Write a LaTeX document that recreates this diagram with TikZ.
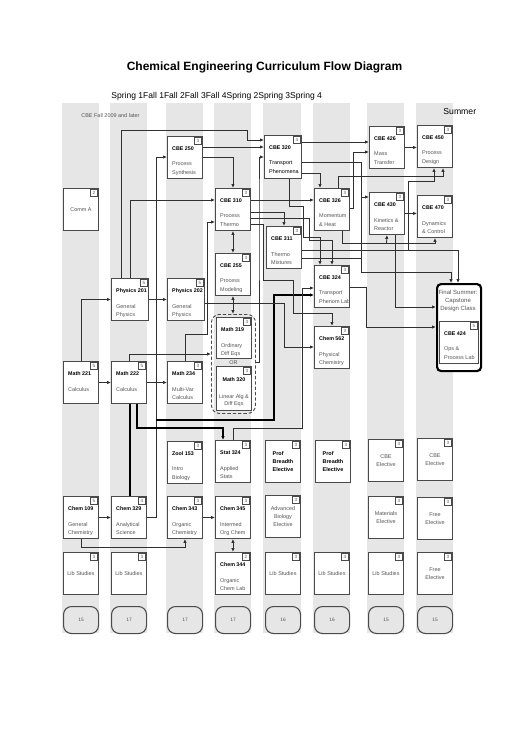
\documentclass[tikz,border=0pt]{standalone}
\usepackage{fontspec}
\setmainfont{Liberation Sans}
\usetikzlibrary{arrows.meta}

\definecolor{stripegray}{HTML}{E6E6E6}
\definecolor{boxgray}{HTML}{4A4A4A}
\definecolor{wiregray}{HTML}{303030}
\definecolor{textgray}{HTML}{555555}

\tikzset{every picture/.style={line width=0.6pt}}
\tikzset{
  cbox/.style={draw=boxgray, line width=0.7pt, fill=white, anchor=north west, minimum width=26.25pt, minimum height=31.5pt, inner sep=0pt},
  ctitle/.style={anchor=west, inner sep=0pt, font=\fontsize{4}{4.8}\selectfont\bfseries, text=black},
  cdesc/.style={anchor=north west, inner sep=0pt, align=left, font=\fontsize{4.1}{6.3}\selectfont, text=textgray},
  ccent/.style={inner sep=0pt, align=center, font=\fontsize{4.1}{6.2}\selectfont, text=textgray},
  cred/.style={draw=boxgray, line width=0.5pt, fill=white, anchor=north east, minimum size=5.4pt, inner sep=0pt, font=\fontsize{3.4}{3.4}\selectfont, text=textgray},
  tot/.style={draw=boxgray, line width=0.8pt, fill=stripegray, rounded corners=6pt, anchor=north west, minimum width=26.25pt, minimum height=20.25pt, inner sep=0pt, font=\fontsize{3.6}{3.6}\selectfont, text=textgray},
  arr/.style={draw=wiregray, -{Latex[length=3pt,width=2.6pt]}},
  darr/.style={draw=wiregray, {Latex[length=3pt,width=2.6pt]}-{Latex[length=3pt,width=2.6pt]}},
  link/.style={draw=wiregray},
  heavy/.style={draw=black, line width=1pt},
}

% course box: [box options]{name}{x}{y}{title}{description}{credits}
\newcommand{\course}[7][]{%
  \node[cbox,#1] (#2) at (#3,#4) {};
  \node[ctitle] (#2t) at ([xshift=3.6pt,yshift=-9.75pt]#2.north west) {#5};
  \node[cdesc] (#2d) at ([xshift=3.6pt,yshift=-19.3pt]#2.north west) {#6};
  \node[cred] (#2c) at ([xshift=-0.8pt,yshift=-0.8pt]#2.north east) {#7};
}
% elective box: [text options]{name}{x}{y}{text}{credits}
\newcommand{\elective}[6][]{%
  \node[cbox] (#2) at (#3,#4) {};
  \node[ccent,#1] (#2d) at (#2.center) {#5};
  \node[cred] (#2c) at ([xshift=-0.8pt,yshift=-0.8pt]#2.north east) {#6};
}

\begin{document}
\begin{tikzpicture}[x=0.75pt,y=-0.75pt]
\useasboundingbox (0,0) rectangle (530,749);

%Semester stripes
\fill[stripegray] (62,103) rectangle (99,633);
\fill[stripegray] (110,103) rectangle (147,633);
\fill[stripegray] (166,103) rectangle (203,633);
\fill[stripegray] (214,103) rectangle (251,633);
\fill[stripegray] (263,103) rectangle (301,633);
\fill[stripegray] (313,103) rectangle (350,633);
\fill[stripegray] (367,103) rectangle (404,633);
\fill[stripegray] (416,103) rectangle (453,633);

% Text Node
\node[font=\fontsize{9}{11}\selectfont\bfseries] (title) at (264.5,67) {Chemical Engineering Curriculum Flow Diagram};
% Text Node
\node[anchor=west, inner sep=0pt, font=\fontsize{6.4}{7.5}\selectfont] (terms) at (111,96) {Spring 1Fall 1Fall 2Fall 3Fall 4Spring 2Spring 3Spring 4};
% Text Node
\node[anchor=west, inner sep=0pt, font=\fontsize{6.5}{7.5}\selectfont] (summer) at (443,112) {Summer};
% Text Node
\node[anchor=west, inner sep=0pt, font=\fontsize{4.1}{5}\selectfont, text=textgray] (since) at (81,116) {CBE Fall 2009 and later};

%Spring 1
\elective{comma}{63}{188}{Comm A}{2}
\course{calc221}{63}{361}{Math 221}{Calculus}{5}
\course{chem109}{63}{496}{Chem 109}{General\\Chemistry}{5}
\elective{lib1}{63}{552}{Lib Studies}{3}
%Fall 1
\course[minimum width=27.75pt]{phys201}{111}{278}{Physics 201}{General\\Physics}{5}
\course{calc222}{111}{361}{Math 222}{Calculus}{5}
\course{chem329}{111}{496}{Chem 329}{Analytical\\Science}{4}
\elective{lib2}{111}{552}{Lib Studies}{3}
%Fall 2
\course{cbe250}{167}{136}{CBE 250}{Process\\Synthesis}{3}
\course[minimum width=27.75pt]{phys202}{167}{278}{Physics 202}{General\\Physics}{5}
\course{mth234}{167}{361}{Math 234}{Multi-Var\\Calculus}{3}
\course{zool153}{167}{441}{Zool 153}{Intro\\Biology}{3}
\course{chem343}{167}{496}{Chem 343}{Organic\\Chemistry}{3}
%Fall 3
\course{cbe310}{215}{188}{CBE 310}{Process\\Thermo}{3}
\course{cbe255}{215}{253}{CBE 255}{Process\\Modeling}{3}
\node[draw=boxgray, line width=0.7pt, dash pattern=on 2.5pt off 1.5pt, rounded corners=6pt, anchor=north west, minimum width=33pt, minimum height=74.25pt, inner sep=0pt] (orbox) at (211,314) {};
\course[minimum height=30.75pt]{mth319}{216}{317}{Math 319}{Ordinary\\Diff Eqs}{3}
\node[ccent] (ortxt) at (233.5,363) {OR};
\node[cbox, minimum height=33pt] (mth320) at (216,366) {};
\node[ctitle, anchor=center] (mth320t) at ([yshift=-10.5pt]mth320.north) {Math 320};
\node[ccent, anchor=north, font=\fontsize{4.1}{5.6}\selectfont] (mth320d) at ([yshift=-20.8pt]mth320.north) {Linear Alg \&\\Diff Eqs};
\node[cred] (mth320c) at ([xshift=-0.8pt,yshift=-0.8pt]mth320.north east) {3};
\course{stat324}{215}{440}{Stat 324}{Applied\\Stats}{3}
\course{chem345}{215}{496}{Chem 345}{Intermed\\Org Chem}{3}
\course{chem344}{215}{552}{Chem 344}{Organic\\Chem Lab}{2}
%Fall 4
\course[minimum width=27.75pt, minimum height=32.25pt]{cbe320}{264}{135}{CBE 320}{\textcolor{black}{Transport}\\\textcolor{black}{Phenomena}}{4}
\course{cbe311}{266}{226}{CBE 311}{Thermo\\Mixtures}{3}
\elective[align=left, text=black, font=\fontsize{4.1}{6.3}\selectfont\bfseries]{prof1}{265}{440}{Prof\\Breadth\\Elective}{3}
\elective{advbio}{265}{495}{Advanced\\Biology\\Elective}{3}
\elective{lib5}{265}{552}{Lib Studies}{3}
%Spring 2
\course{cbe326}{314}{188}{CBE 326}{Momentum\\\& Heat}{3}
\course{cbe324}{314}{265}{CBE 324}{Transport\\Phenom Lab}{3}
\course{chem562}{314}{326}{Chem 562}{Physical\\Chemistry}{3}
\elective[align=left, text=black, font=\fontsize{4.1}{6.3}\selectfont\bfseries]{prof2}{315}{440}{Prof\\Breadth\\Elective}{3}
\elective{lib6}{314}{552}{Lib Studies}{4}
%Spring 3
\course{cbe426}{369}{126}{CBE 426}{Mass\\Transfer}{3}
\course{cbe430}{369}{192}{CBE 430}{Kinetics \&\\Reactor}{3}
\elective{cbeel1}{368}{439}{CBE\\Elective}{3}
\elective{matel}{368}{496}{Materials\\Elective}{3}
\elective{lib7}{368}{552}{Lib Studies}{3}
%Spring 4
\course{cbe450}{417}{125}{CBE 450}{Process\\Design}{3}
\course{cbe470}{417}{195}{CBE 470}{Dynamics\\\& Control}{3}
\elective{cbeel2}{417}{438}{CBE\\Elective}{3}
\elective{free1}{417}{497}{Free\\Elective}{3}
\elective{free2}{417}{552}{Free\\Elective}{3}
%Summer
\node[draw=black, line width=1.6pt, rounded corners=3pt, fill=white, anchor=north west, minimum width=33pt, minimum height=65.25pt, inner sep=0pt] (final) at (436,283) {};
\node[ccent, font=\fontsize{4.5}{6}\selectfont] (finaltxt) at (458,301) {Final Summer:\\Capstone\\Design Class};
\course[minimum width=29.25pt]{cbe424}{439}{321}{CBE 424}{Ops \&\\Process Lab}{5}

%Credit totals
\node[tot] (sum1) at (63,606) {15};
\node[tot] (sum2) at (111,606) {17};
\node[tot] (sum3) at (167,606) {17};
\node[tot] (sum4) at (215,606) {17};
\node[tot] (sum5) at (265,606) {16};
\node[tot] (sum6) at (314,606) {16};
\node[tot] (sum7) at (368,606) {15};
\node[tot] (sum8) at (417,606) {15};

%Junctions
\coordinate (j420) at (156,420);
\coordinate (j361) at (361,197);
\coordinate (j258) at (361,258);
\coordinate (j387) at (386.5,243);
\coordinate (j408) at (408,213);
\coordinate (j250) at (408,250);

%Straight Lines
\draw[arr] (calc221.east) -- (calc222.west);
\draw[arr] (calc221.north) |- (phys201.west);
\draw[arr] (phys201.east) -- (phys202.west);
\draw[arr] (calc222.east) -- (mth234.west);
\draw[arr] (chem109.east) -- (chem329.west);
\draw[arr] (chem109.south) -- ++(0,8) -| (chem343.south);
\draw[arr] (chem343.east) -- (chem345.west);
\draw[darr] (chem345.south) -- (chem344.north);
\draw[darr] (cbe310.south) -- (cbe255.north);
\draw[darr] (cbe255.south) -- (cbe255.south |- orbox.north);
%Lines into CBE 320 and CBE 310
\draw[arr] (phys201.north -| 121,0) |- (247,130) |- (cbe320.west |- 0,140);
\draw[arr] (phys201.north -| 130,0) |- (cbe310.west |- 0,200);
\draw[arr] (cbe250.east |- 0,147) -- (cbe320.west |- 0,147);
\draw[arr] (cbe250.east |- 0,157) -| (cbe310.north);
\draw[arr] (chem329.east) -| (156,157) -- (cbe250.west |- 0,157);
\draw[arr] (mth234.north) |- (207,334) |- (cbe310.west |- 0,222);
\draw[arr] (calc222.north) |- (orbox.west |- 0,354);
\draw[arr] (orbox.east |- 0,362) -| (259,200) |- (cbe320.west |- 0,157);
%Heavy lines
\draw[heavy] (chem329.north -| 130,0) -- (calc222.south -| 130,0);
\draw[arr,heavy] (calc222.south -| 137,0) |- (223,428) -- (stat324.north -| 223,0);
\draw[arr,heavy] (j420) -| (274,295) -- (cbe324.west |- 0,295);
\draw[arr] (stat324.north) |- (302,428) |- (cbe324.west |- 0,288);
\draw[arr] (phys202.east |- 0,303) -| (284,347) -- (chem562.west |- 0,347);
%Lines out of CBE 310
\draw[arr] (cbe310.east |- 0,200) -- (cbe326.west |- 0,200);
\draw[arr] (cbe310.east |- 0,212) -| (cbe311.north);
\draw[arr] (cbe310.east |- 0,218) -| (309,240) -| (cbe324.north -| 332,0);
\draw[arr] (cbe310.east |- 0,224) -| (263,280) -| (293,313) -| (chem562.north);
%Lines out of CBE 320
\draw[arr] (cbe320.south -| 289,0) |- (303,206) |- (320,237) -- (cbe324.north -| 320,0);
\draw[arr] (cbe320.east |- 0,142) -- (cbe426.west |- 0,142);
\draw[arr] (cbe320.east |- 0,162) -| (361,272) -| (final.north -| 451,0);
\draw[arr] (j361) -- (cbe430.west |- j361);
\draw[arr] (cbe320.east |- 0,173) -| (cbe326.north -| 320,0);
%Lines out of CBE 311 and CBE 326
\draw[link] (cbe311.east |- j258) -- (j258);
\draw[arr] (cbe311.east |- 0,250) -| (final.north -| 458,0);
\draw[arr] (cbe326.east |- 0,208) -| (353,152) -- (cbe426.west |- 0,152);
\draw[arr] (cbe326.north -| 338,0) |- (443,176) -- (cbe450.south -| 443,0);
\draw[arr] (cbe326.south -| 342,0) |- (cbe470.south |- 0,243) -- (cbe470.south);
\draw[arr] (j387) -- (cbe430.south);
%Lines out of CBE 426, CBE 430, CBE 324
\draw[arr] (cbe426.east) -- (cbe450.west |- cbe426.east);
\draw[arr] (cbe430.east) -- (cbe470.west |- cbe430.east);
\draw[arr] (j408) |- (434,181) -- (cbe450.south -| 434,0);
\draw[link] (j408) -- (j250);
\draw[arr] (cbe430.south -| 395,0) |- (final.west |- 0,307);
\draw[arr] (cbe324.east |- 0,287) -| (366,327) -- (final.west |- 0,327);

\end{tikzpicture}
\end{document}
